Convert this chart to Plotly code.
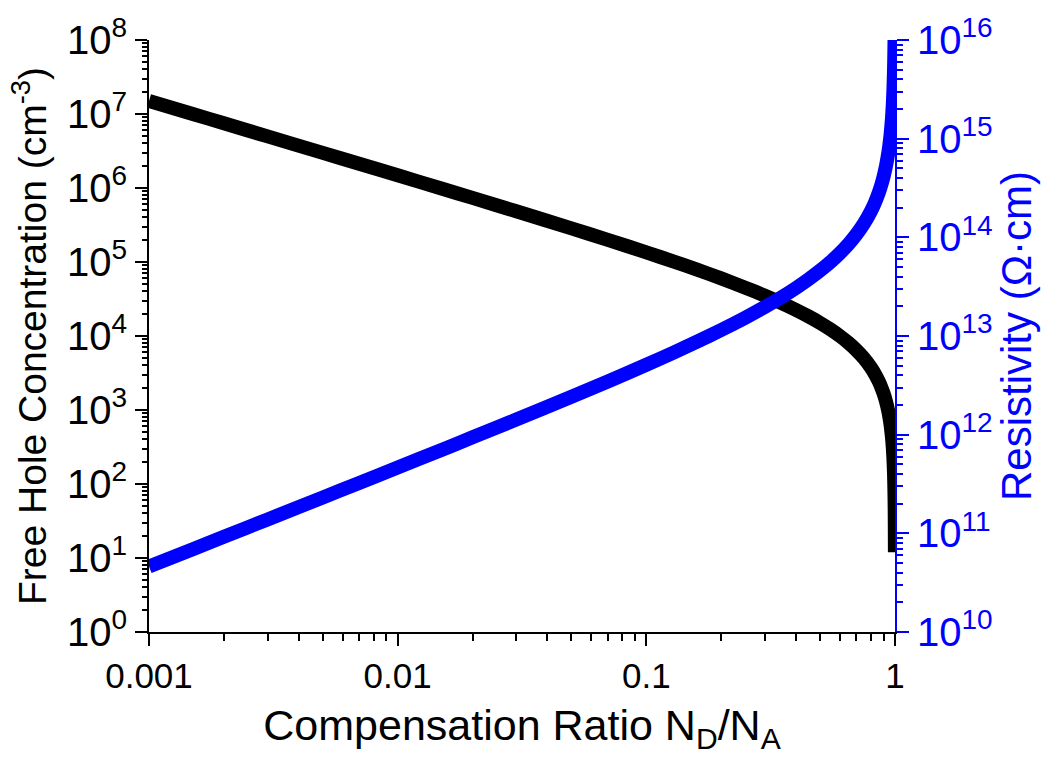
import plotly.graph_objects as go

# Compensation ratio N_D/N_A
ratio = [0.001, 0.0015, 0.002, 0.003, 0.005, 0.007, 0.01, 0.015, 0.02, 0.03,
         0.05, 0.07, 0.1, 0.13, 0.16, 0.2, 0.25, 0.3, 0.35, 0.4, 0.45, 0.5,
         0.55, 0.6, 0.65, 0.7, 0.75, 0.8, 0.83, 0.86, 0.88, 0.9, 0.92, 0.94,
         0.95, 0.96, 0.97, 0.975, 0.98, 0.985, 0.99, 0.9925, 0.995, 0.997,
         0.998, 0.999]

# Free hole concentration (cm^-3)
hole_conc = [1.5e7, 9.99e6, 7.49e6, 4.98e6, 2.985e6, 2.13e6, 1.485e6, 9.85e5,
             7.35e5, 4.85e5, 2.85e5, 1.993e5, 1.35e5, 1.004e5, 7.875e4, 6.0e4,
             4.5e4, 3.5e4, 2.786e4, 2.25e4, 1.833e4, 1.5e4, 1.227e4, 1.0e4,
             8077, 6429, 5000, 3750, 3072, 2442, 2045, 1667, 1304, 957, 789, 625,
             464, 385, 306, 228, 152, 113, 75, 45, 30, 12]

# Resistivity (Ohm cm)
resistivity = [4.6e10, 6.91e10, 9.22e10, 1.384e11, 2.31e11, 3.24e11, 4.65e11,
               7.0e11, 9.39e11, 1.423e12, 2.42e12, 3.46e12, 5.11e12, 6.87e12,
               8.76e12, 1.15e13, 1.533e13, 1.971e13, 2.477e13, 3.067e13, 3.764e13,
               4.6e13, 5.62e13, 6.9e13, 8.54e13, 1.073e14, 1.38e14, 1.84e14,
               2.246e14, 2.826e14, 3.373e14, 4.14e14, 5.29e14, 7.21e14, 8.74e14,
               1.104e15, 1.487e15, 1.794e15, 2.254e15, 3.02e15, 4.55e15, 6.09e15,
               9.15e15, 1.53e16, 2.3e16, 4.6e16]

x_ticks = [0.001, 0.01, 0.1, 1]
x_ticktext = ["0.001", "0.01", "0.1", "1"]
left_exps = list(range(0, 9))
right_exps = list(range(10, 17))

FONT = "Liberation Sans, Arial, sans-serif"
BLUE = "#0000ff"


def minor_vals(e0, e1):
    return [m * 10.0 ** e for e in range(e0, e1) for m in range(2, 10)]


fig = go.Figure()
fig.add_trace(go.Scatter(x=ratio, y=hole_conc, mode="lines",
                         line=dict(color="black", width=14, shape="spline",
                                   smoothing=0.6),
                         showlegend=False, xaxis="x", yaxis="y"))
fig.add_trace(go.Scatter(x=ratio, y=resistivity, mode="lines",
                         line=dict(color=BLUE, width=14, shape="spline",
                                   smoothing=0.6),
                         showlegend=False, xaxis="x", yaxis="y2"))

fig.update_layout(
    width=1046, height=758,
    margin=dict(l=149, r=151, t=33, b=126),
    paper_bgcolor="white", plot_bgcolor="white",
    font=dict(family=FONT, size=34, color="black"),
    xaxis=dict(
        type="log", range=[-3, 0],
        tickmode="array", tickvals=x_ticks, ticktext=x_ticktext,
        ticks="outside", ticklen=12, tickwidth=2, tickcolor="black",
        minor=dict(tickmode="array", tickvals=minor_vals(-3, 0),
                   ticks="outside", ticklen=7, tickwidth=1.5, tickcolor="black"),
        showline=True, linecolor="black", linewidth=2,
        showgrid=False, zeroline=False,
        tickfont=dict(size=35),
        title=dict(text="Compensation Ratio N<sub>D</sub>/N<sub>A</sub>",
                   font=dict(size=43), standoff=16),
    ),
    xaxis2=dict(
        type="log", range=[-3, 0], overlaying="x", side="top",
        anchor="y", matches="x",
        tickmode="array", tickvals=x_ticks, ticktext=["", "", "", ""],
        ticks="inside", ticklen=12, tickwidth=2, tickcolor="black",
        minor=dict(tickmode="array", tickvals=minor_vals(-3, 0),
                   ticks="inside", ticklen=7, tickwidth=1.5, tickcolor="black"),
        showline=True, linecolor="black", linewidth=2,
        showgrid=False, zeroline=False, showticklabels=False,
    ),
    yaxis=dict(
        type="log", range=[0, 8],
        tickmode="array", tickvals=[10.0 ** e for e in left_exps],
        ticktext=["10<sup>%d</sup>" % e for e in left_exps],
        ticks="outside", ticklen=12, tickwidth=2, tickcolor="black",
        minor=dict(tickmode="array", tickvals=minor_vals(0, 8),
                   ticks="outside", ticklen=5, tickwidth=1.5, tickcolor="black"),
        showline=True, linecolor="black", linewidth=2,
        showgrid=False, zeroline=False,
        tickfont=dict(size=40),
        title=dict(text="Free Hole Concentration (cm<sup>-3</sup>)",
                   font=dict(size=39), standoff=8),
    ),
    yaxis2=dict(
        type="log", range=[10, 16], overlaying="y", side="right", anchor="x",
        tickmode="array", tickvals=[10.0 ** e for e in right_exps],
        ticktext=["10<sup>%d</sup>" % e for e in right_exps],
        ticks="outside", ticklen=12, tickwidth=2, tickcolor=BLUE,
        minor=dict(tickmode="array", tickvals=minor_vals(10, 16),
                   ticks="outside", ticklen=6, tickwidth=1.5, tickcolor=BLUE),
        showline=True, linecolor=BLUE, linewidth=2,
        showgrid=False, zeroline=False,
        tickfont=dict(size=40, color=BLUE),
        title=dict(text="Resistivity (Ω·cm)",
                   font=dict(size=42, color=BLUE), standoff=6),
    ),
)

fig.write_html("out.html")
